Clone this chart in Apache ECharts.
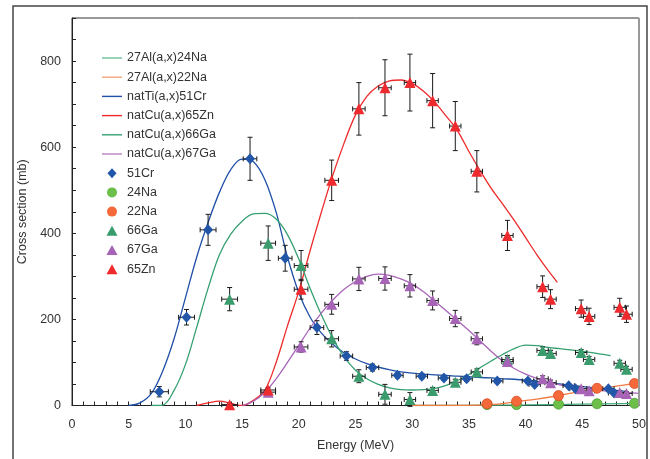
<!DOCTYPE html>
<html><head><meta charset="utf-8">
<script src="https://cdn.jsdelivr.net/npm/echarts@6/dist/echarts.min.js"></script>
<style>html,body{margin:0;padding:0;background:#fff}#c{width:650px;height:459px}</style>
</head><body><div id="c"></div>
<script>
// ---------- Experimental data ----------
// natTi foil -> 51Cr
var tiEnergy  = [7.7, 10.1, 12.0, 15.7, 18.8, 21.6, 24.2, 26.5, 28.7, 30.85, 32.8, 34.8, 37.5, 40.2, 40.8, 43.8, 44.4, 47.3, 47.8];
var tiEnergyErr = [0.8, 0.7, 0.7, 0.6, 0.6, 0.6, 0.55, 0.55, 0.5, 0.5, 0.5, 0.5, 0.5, 0.5, 0.5, 0.5, 0.5, 0.5, 0.5];
var cr51 = [32, 205, 408, 573, 342, 181, 115, 88, 70, 68, 64, 62, 57, 57, 49, 46, 39, 39, 29];
var cr51Err = [12, 18, 36, 50, 30, 16, 10, 8, 6, 6, 6, 6, 5, 5, 5, 5, 4, 4, 3];

// natCu foil -> 65Zn, 66Ga, 67Ga
var cuEnergy = [13.9, 17.3, 20.2, 22.9, 25.3, 27.6, 29.8, 31.8, 33.8, 35.7, 38.4, 41.5, 42.2, 44.9, 45.6, 48.3, 48.9];
var cuEnergyErr = [0.7, 0.65, 0.6, 0.6, 0.55, 0.55, 0.5, 0.5, 0.5, 0.5, 0.5, 0.5, 0.5, 0.5, 0.5, 0.5, 0.5];
var zn65 = [2, 36, 270, 523, 689, 738, 750, 708, 649, 544, 395, 276, 247, 225, 207, 228, 212];
var zn65Err = [3, 5, 23, 47, 61, 65, 66, 63, 57, 48, 35, 25, 22, 20, 19, 21, 19];
var ga66 = [247, 377, 325, 155, 68, 26, 14, 35, 54, 78, 107, 128, 121, 123, 107, 98, 84];
var ga66Err = [27, 40, 35, 19, 15, 23, 16, 7, 7, 7, 9, 8, 7, 7, 7, 7, 7];
var ga67 = [null, 31, 136, 235, 294, 295, 278, 244, 202, 155, 102, 62, 53, 39, 34, 30, 28];
var ga67Err = [null, 4, 12, 23, 27, 27, 26, 22, 19, 14, 10, 7, 6, 5, 5, 4, 4];

// Al foil -> 24Na, 22Na
var alEnergy = [36.6, 39.2, 42.9, 46.3, 49.6];
var na24 = [2, 2, 3, 4, 5];
var na22 = [4, 10, 23, 40, 51];

// ---------- Model curves ----------
var curveCrE = [5, 6, 7, 8, 9, 10, 11, 12, 13, 14, 15, 16, 17, 18, 19, 20, 21, 22, 23, 24, 25, 26, 27, 28, 29, 30, 31, 32, 33, 34, 35, 36, 37, 38, 39, 40, 41, 42, 43, 44, 45, 46, 47, 48, 49];
var curveCr  = [0, 6, 28, 80, 155, 250, 345, 425, 495, 548, 572, 566, 525, 449, 345, 262, 205, 168, 142, 122, 108, 97, 89, 83, 78, 75, 73, 71, 70, 68, 67, 65, 64, 62, 61, 59, 56, 53, 50, 47, 44, 41, 38, 35, 32];

var curveGa66E = [7, 8, 9, 10, 11, 12, 13, 14, 15, 16, 17, 18, 19, 20, 21, 22, 23, 24, 25, 26, 27, 28, 29, 30, 31, 32, 33, 34, 35, 36, 37, 38, 39, 40, 41, 42, 43, 44, 45, 46, 47, 47.5];
var curveGa66  = [0, 1, 35, 95, 182, 272, 350, 398, 428, 445, 446, 433, 397, 340, 272, 210, 156, 113, 82, 62, 49, 41, 37, 36, 37, 40, 47, 58, 72, 88, 104, 119, 132, 140, 139, 135, 132, 129, 126, 122, 118, 116];

var curveZnE = [11, 12, 13, 14, 15, 16, 17, 18, 19, 20, 21, 22, 23, 24, 25, 26, 27, 28, 29, 30, 31, 32, 33, 34, 35, 36, 37, 38, 39, 40, 41, 42, 42.8];
var curveZn  = [0, 6, 10, 5, 0, 12, 35, 100, 185, 265, 360, 450, 535, 610, 675, 718, 742, 754, 756, 748, 730, 704, 672, 638, 590, 545, 503, 467, 430, 390, 350, 313, 286];

var curveGa67E = [15, 16, 17, 18, 19, 20, 21, 22, 23, 24, 25, 26, 27, 28, 29, 30, 31, 32, 33, 34, 35, 36, 37, 38, 39, 40, 41, 42, 43, 44, 45, 46, 47, 48, 49, 50];
var curveGa67  = [0, 10, 30, 62, 100, 140, 180, 215, 245, 270, 288, 300, 305, 302, 294, 282, 264, 242, 220, 197, 174, 150, 125, 103, 86, 73, 63, 55, 48, 43, 40, 37, 34, 31, 30, 28];

var curveNa22E = [30, 33, 36, 37.5, 39.2, 41, 42.9, 44.5, 46.3, 48, 50];
var curveNa22  = [0, 0, 1, 3, 9, 15, 23, 31, 38, 45, 53];

var curveNa24E = [30, 35, 40, 45, 50];
var curveNa24  = [0, 0.5, 1.5, 3, 5];

var xTicks = [0, 5, 10, 15, 20, 25, 30, 35, 40, 45, 50];
var yTicks = [0, 200, 400, 600, 800];

// ---------- helpers ----------
function pairs(xs, ys) { return xs.map(function (x, i) { return ys[i] == null ? null : [x, ys[i]]; }).filter(Boolean); }
function errData(xs, exs, ys, eys) {
  var out = [];
  xs.forEach(function (x, i) { if (ys[i] != null) out.push([x, ys[i], exs[i], eys[i]]); });
  return out;
}
function errRender(params, api) {
  var x = api.value(0), y = api.value(1), ex = api.value(2), ey = api.value(3);
  var c = api.coord([x, y]);
  var t = api.coord([x, y + ey]), b = api.coord([x, y - ey]);
  var l = api.coord([x - ex, y]), r = api.coord([x + ex, y]);
  var cap = 2.5;
  var st = { stroke: '#1a1a1a', lineWidth: 1 };
  var ch = [];
  function ln(x1, y1, x2, y2) { ch.push({ type: 'line', shape: { x1: x1, y1: y1, x2: x2, y2: y2 }, style: st }); }
  if (ey > 0) {
    ln(c[0], t[1], c[0], b[1]);
    ln(c[0] - cap, t[1], c[0] + cap, t[1]);
    ln(c[0] - cap, b[1], c[0] + cap, b[1]);
  }
  if (ex > 0) {
    ln(l[0], c[1], r[0], c[1]);
    ln(l[0], c[1] - cap, l[0], c[1] + cap);
    ln(r[0], c[1] - cap, r[0], c[1] + cap);
  }
  return { type: 'group', children: ch };
}
function errSeries(d) {
  return { type: 'custom', renderItem: errRender, data: d, encode: { x: 0, y: 1 }, z: 3, silent: true, clip: false };
}
function curve(name, xs, ys, color) {
  return { name: name, type: 'line', data: pairs(xs, ys), smooth: 0.35, showSymbol: false, symbol: 'none',
    lineStyle: { color: color, width: 1.3 }, itemStyle: { color: color }, z: 2, silent: true };
}
function dots(name, xs, ys, symbol, size, color, border) {
  return { name: name, type: 'scatter', data: pairs(xs, ys), symbol: symbol, symbolSize: size,
    itemStyle: { color: color, borderColor: border || color, borderWidth: border ? 0.8 : 0, opacity: 1 }, z: 4, silent: true };
}

var LINE_ICON = 'path://M0,0H20V1.4H0Z';
var DIAMOND_ICON = 'path://M5,0L10,5.5L5,11L0,5.5Z';
var TRI_ICON = 'path://M5,0L10,9L0,9Z';

var FONT = '"Liberation Sans", Arial, sans-serif';
var chart = echarts.init(document.getElementById('c'), null, { renderer: 'canvas' });

var option = {
  animation: false,
  backgroundColor: '#fff',
  textStyle: { fontFamily: FONT },
  grid: { left: 72, right: 11, top: 18, bottom: 53.5, show: true, borderColor: '#333', borderWidth: 1 },
  legend: {
    orient: 'vertical', left: 102, top: 51.5, padding: 0, itemWidth: 20, itemHeight: 10, itemGap: 6.2,
    symbolKeepAspect: true,
    textStyle: { fontFamily: FONT, fontSize: 12.5, color: '#333' },
    data: [
      { name: '27Al(a,x)24Na', icon: LINE_ICON, itemStyle: { color: '#6cc194' } },
      { name: '27Al(a,x)22Na', icon: LINE_ICON, itemStyle: { color: '#f6a47e' } },
      { name: 'natTi(a,x)51Cr', icon: LINE_ICON },
      { name: 'natCu(a,x)65Zn', icon: LINE_ICON },
      { name: 'natCu(a,x)66Ga', icon: LINE_ICON },
      { name: 'natCu(a,x)67Ga', icon: LINE_ICON, itemStyle: { color: '#b982c6' } },
      { name: '51Cr', icon: DIAMOND_ICON },
      { name: '24Na', icon: 'circle', itemStyle: { borderWidth: 0 } },
      { name: '22Na', icon: 'circle', itemStyle: { borderWidth: 0 } },
      { name: '66Ga', icon: TRI_ICON },
      { name: '67Ga', icon: TRI_ICON },
      { name: '65Zn', icon: TRI_ICON }
    ]
  },
  xAxis: {
    type: 'value', min: 0, max: 50, interval: 1,
    name: 'Energy (MeV)', nameLocation: 'middle', nameGap: 34,
    nameTextStyle: { fontFamily: FONT, fontSize: 12.5, color: '#333' },
    axisLine: { lineStyle: { color: '#222', width: 1 } },
    axisTick: { inside: true, length: 4, lineStyle: { color: '#222' } },
    axisLabel: { margin: 13, fontFamily: FONT, fontSize: 12.5, color: '#333',
      formatter: function (v) { return xTicks.indexOf(v) >= 0 ? String(v) : ''; } },
    splitLine: { show: false }
  },
  yAxis: {
    type: 'value', min: 0, max: 900, interval: 50,
    name: 'Cross section (mb)', nameLocation: 'middle', nameGap: 43,
    nameTextStyle: { fontFamily: FONT, fontSize: 12.5, color: '#333' },
    axisLine: { show: true, lineStyle: { color: '#222', width: 1 } },
    axisTick: { show: true, inside: true, length: 4, lineStyle: { color: '#222' } },
    axisLabel: { margin: 11, fontFamily: FONT, fontSize: 12.5, color: '#333',
      formatter: function (v) { return yTicks.indexOf(v) >= 0 ? String(v) : ''; } },
    splitLine: { show: false }
  },
  series: [
    curve('27Al(a,x)24Na', curveNa24E, curveNa24, '#3fa877'),
    curve('27Al(a,x)22Na', curveNa22E, curveNa22, '#f37a40'),
    curve('natTi(a,x)51Cr', curveCrE, curveCr, '#1f4fa6'),
    curve('natCu(a,x)65Zn', curveZnE, curveZn, '#ee2a2a'),
    curve('natCu(a,x)66Ga', curveGa66E, curveGa66, '#35a070'),
    curve('natCu(a,x)67Ga', curveGa67E, curveGa67, '#a865b8'),
    errSeries(errData(tiEnergy, tiEnergyErr, cr51, cr51Err)),
    errSeries(errData(cuEnergy, cuEnergyErr, ga66, ga66Err)),
    errSeries(errData(cuEnergy, cuEnergyErr, ga67, ga67Err)),
    errSeries(errData(cuEnergy, cuEnergyErr, zn65, zn65Err)),
    dots('51Cr', tiEnergy, cr51, 'diamond', [10, 11], '#2256a8'),
    dots('24Na', alEnergy, na24, 'circle', 10, '#6cbf48', '#4e9e38'),
    dots('22Na', alEnergy, na22, 'circle', 10, '#f4693a', '#e04a25'),
    dots('66Ga', cuEnergy, ga66, 'triangle', 11, '#3a9c6c'),
    dots('67Ga', cuEnergy, ga67, 'triangle', 11, '#a764b6'),
    dots('65Zn', cuEnergy, zn65, 'triangle', 11, '#ee2a2e')
  ]
};
chart.setOption(option);

// frames: outer box and gray right edge of plot
var p0 = chart.convertToPixel({ gridIndex: 0 }, [0, 0]);
var p1 = chart.convertToPixel({ gridIndex: 0 }, [50, 900]);
chart.setOption({
  graphic: [
    { type: 'rect', shape: { x: 13, y: 6, width: 634, height: 470 }, style: { fill: 'none', stroke: '#444', lineWidth: 1.5 }, silent: true },
    { type: 'line', shape: { x1: p1[0], y1: p1[1], x2: p1[0], y2: p0[1] }, style: { stroke: '#999', lineWidth: 2 }, silent: true, z: 10 }
  ]
});
</script></body></html>
